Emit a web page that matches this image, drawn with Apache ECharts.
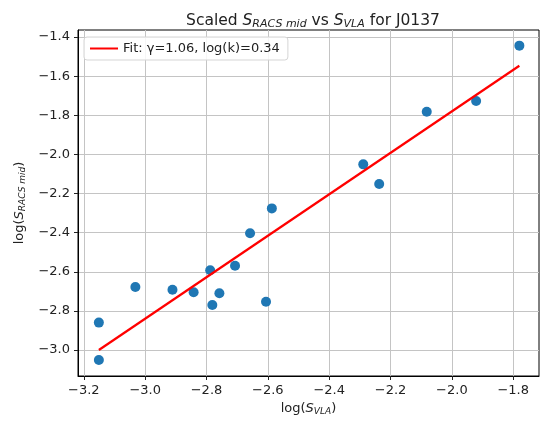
<!DOCTYPE html>
<html>
<head>
<meta charset="utf-8">
<script src="https://cdn.jsdelivr.net/npm/echarts@6/dist/echarts.min.js"></script>
<style>
  html, body { margin: 0; padding: 0; background: #fff; }
  #chart { width: 543px; height: 423px; }
</style>
</head>
<body>
<div id="chart"></div>
<script>
// Flux measurements (log10) for J0137
const logSVLA = [-3.151, -3.151, -3.032, -2.911, -2.842, -2.788, -2.781, -2.758, -2.707,
                 -2.658, -2.606, -2.587, -2.289, -2.237, -2.082, -1.921, -1.780];
const logSRACS = [-2.860, -3.051, -2.678, -2.692, -2.705, -2.592, -2.770, -2.710, -2.569,
                  -2.403, -2.753, -2.276, -2.051, -2.151, -1.782, -1.727, -1.444];

// Power-law fit parameters: log(S_RACS) = gamma * log(S_VLA) + log(k)
const gamma = 1.06;
const logK = 0.34;

// Tick positions
const xTicks = [-3.2, -3.0, -2.8, -2.6, -2.4, -2.2, -2.0, -1.8];
const yTicks = [-3.0, -2.8, -2.6, -2.4, -2.2, -2.0, -1.8, -1.6, -1.4];

// Axis ranges (data extent plus 5% padding)
const xRange = [-3.219, -1.716];
const yRange = [-3.133, -1.364];

const points = logSVLA.map((x, i) => [x, logSRACS[i]]);
const xMin = Math.min(...logSVLA);
const xMax = Math.max(...logSVLA);
const fitLine = [[xMin, gamma * xMin + logK], [xMax, gamma * xMax + logK]];

const fmt = v => (v < 0 ? '\u2212' : '') + Math.abs(v).toFixed(1);
const font = 'DejaVu Sans';
const textColor = '#222';
const gridColor = '#c4c4c4';

const chart = echarts.init(document.getElementById('chart'), null, { renderer: 'canvas' });

const subRich = {
  n: { fontFamily: font, fontSize: 13, color: textColor },
  i: { fontFamily: font, fontSize: 13, fontStyle: 'italic', color: textColor },
  s: { fontFamily: font, fontSize: 9, fontStyle: 'italic', color: textColor, padding: [7, 0, 0, 0] }
};

chart.setOption({
  animation: false,
  backgroundColor: '#fff',
  title: {
    text: '{n|Scaled }{i|S}{s|RACS mid}{n| vs }{i|S}{s|VLA}{n| for J0137}',
    left: 308,
    top: 6,
    textAlign: 'center',
    textStyle: {
      fontWeight: 'normal',
      rich: {
        n: { fontFamily: font, fontSize: 15.5, fontWeight: 'normal', color: textColor },
        i: { fontFamily: font, fontSize: 15.5, fontWeight: 'normal', fontStyle: 'italic', color: textColor },
        s: { fontFamily: font, fontSize: 11, fontWeight: 'normal', fontStyle: 'italic', color: textColor, padding: [8, 0, 0, 0] }
      }
    }
  },
  legend: {
    left: 84,
    top: 37,
    orient: 'vertical',
    data: [{ name: 'Fit: \u03b3=' + gamma.toFixed(2) + ', log(k)=' + logK.toFixed(2), icon: 'rect' }],
    itemWidth: 28,
    itemHeight: 2,
    itemGap: 8,
    padding: [5, 8, 5, 6],
    backgroundColor: 'rgba(255,255,255,0.85)',
    borderColor: '#d5d5d5',
    borderWidth: 1,
    borderRadius: 3,
    textStyle: { fontFamily: font, fontSize: 13, color: textColor },
    z: 20
  },
  grid: {
    left: 78,
    right: 4,
    top: 30,
    bottom: 47,
    show: true,
    borderColor: '#000',
    borderWidth: 1,
    backgroundColor: 'transparent'
  },
  xAxis: {
    type: 'value',
    min: xRange[0],
    max: xRange[1],
    name: '{n|log(}{i|S}{s|VLA}{n|)}',
    nameLocation: 'middle',
    nameGap: 22,
    nameTextStyle: { rich: subRich },
    axisLine: { show: true, onZero: false, lineStyle: { color: '#000', width: 1 } },
    axisTick: { show: true, inside: false, length: 4, customValues: xTicks, lineStyle: { color: '#222' } },
    axisLabel: {
      customValues: xTicks,
      margin: 8,
      formatter: fmt,
      fontFamily: font,
      fontSize: 13,
      color: textColor
    },
    splitLine: { show: true, lineStyle: { color: gridColor, width: 1 } }
  },
  yAxis: {
    type: 'value',
    min: yRange[0],
    max: yRange[1],
    name: '{n|log(}{i|S}{s|RACS mid}{n|)}',
    nameLocation: 'middle',
    nameGap: 50,
    nameRotate: 90,
    nameTextStyle: { rich: subRich },
    axisLine: { show: true, onZero: false, lineStyle: { color: '#000', width: 1 } },
    axisTick: { show: true, inside: false, length: 4, customValues: yTicks, lineStyle: { color: '#222' } },
    axisLabel: {
      customValues: yTicks,
      margin: 8,
      formatter: fmt,
      fontFamily: font,
      fontSize: 13,
      color: textColor
    },
    splitLine: { show: true, lineStyle: { color: gridColor, width: 1 } }
  },
  series: [
    {
      type: 'scatter',
      name: 'data',
      data: points,
      symbol: 'circle',
      symbolSize: 10,
      itemStyle: { color: '#1f77b4', opacity: 1 },
      z: 2
    },
    {
      type: 'line',
      name: 'Fit: \u03b3=' + gamma.toFixed(2) + ', log(k)=' + logK.toFixed(2),
      data: fitLine,
      showSymbol: false,
      symbol: 'none',
      lineStyle: { color: '#ff0000', width: 2.2 },
      itemStyle: { color: '#ff0000' },
      z: 3
    }
  ]
});
</script>
</body>
</html>
